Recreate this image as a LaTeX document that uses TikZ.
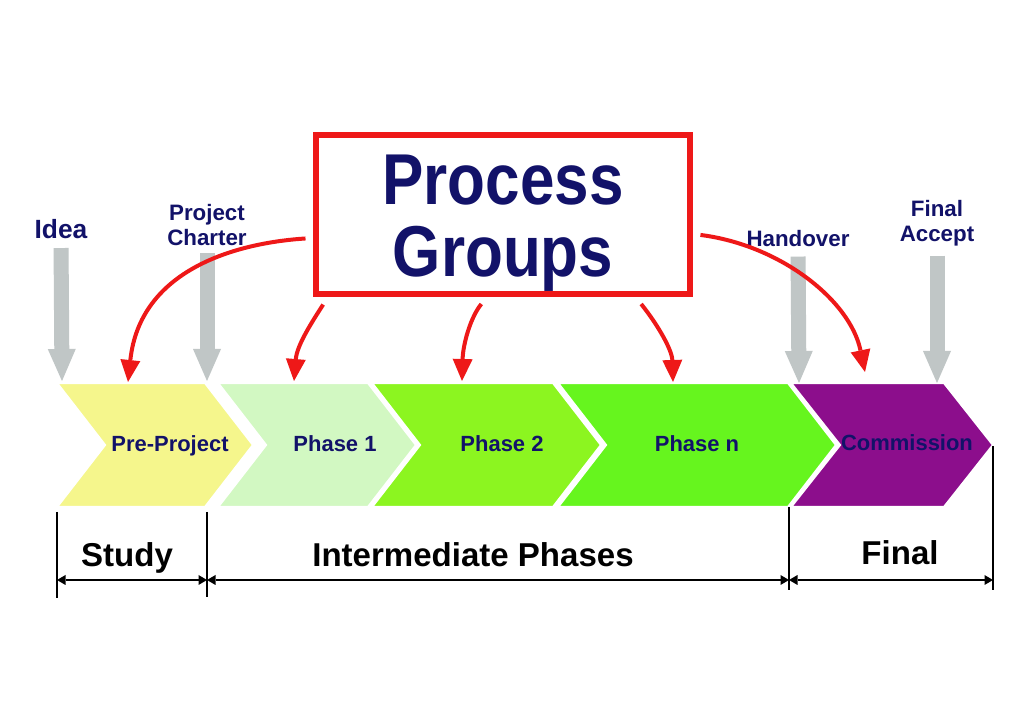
\documentclass[tikz,border=0pt]{standalone}
\usepackage{fontspec}
\setmainfont{Liberation Sans}
\newfontfamily\titlefont[FakeStretch=0.86]{Liberation Sans}
\usetikzlibrary{arrows.meta}
\definecolor{navy}{RGB}{18,18,105}
\definecolor{merah}{RGB}{238,24,24}
\definecolor{abu}{RGB}{192,198,198}
\definecolor{cpre}{RGB}{245,246,140}
\definecolor{cph1}{RGB}{210,248,194}
\definecolor{cph2}{RGB}{140,245,32}
\definecolor{cphn}{RGB}{102,245,30}
\definecolor{ccomm}{RGB}{140,14,140}

\begin{document}
\begin{tikzpicture}[x=0.2mm, y=-0.2mm,
      chev/.style={draw=white, line width=1.2pt},
      fase/.style={anchor=base, inner sep=0pt, text=navy, font=\fontsize{12.5pt}{14pt}\selectfont\bfseries},
      lbl/.style={inner sep=0pt, align=center, text=navy, font=\fontsize{12.7pt}{14.2pt}\selectfont\bfseries},
      besar/.style={anchor=base, inner sep=0pt, font=\fontsize{18.8pt}{20pt}\selectfont\bfseries},
      pgbox/.style={draw=merah, line width=1.2mm, minimum width=74.8mm, minimum height=31.8mm, inner sep=0pt},
      pgtext/.style={inner sep=0pt, align=center, text=navy, font=\titlefont\fontsize{41pt}{41pt}\selectfont\bfseries},
      milestone/.style={draw=abu, line width=3mm, -{Triangle[width=5.6mm, length=6.4mm, line width=0pt]}},
      panah/.style={draw=merah, line width=0.8mm, -{Triangle[width=4mm, length=4.4mm, line width=0pt]}},
      edgeline/.style={line width=0.4mm},
      dimline/.style={line width=0.25mm, {Triangle[width=2mm, length=1.7mm, line width=0pt]}-{Triangle[width=2mm, length=1.7mm, line width=0pt]}}]

      \fill[white] (0,0) rectangle (1024,723);
      \useasboundingbox (0,0) rectangle (1024,723);

      % chevrons
      \filldraw[chev, fill=cpre] (57,383) -- (205,383) -- (253,445) -- (205,507) -- (57,507) -- (105,445) -- cycle;
      \filldraw[chev, fill=cph1] (218,383) -- (368,383) -- (416,445) -- (368,507) -- (218,507) -- (266,445) -- cycle;
      \filldraw[chev, fill=cph2] (372,383) -- (553,383) -- (601,445) -- (553,507) -- (372,507) -- (420,445) -- cycle;
      \filldraw[chev, fill=cphn] (558,383) -- (788,383) -- (836,445) -- (788,507) -- (558,507) -- (606,445) -- cycle;
      \filldraw[chev, fill=ccomm] (791,383) -- (944,383) -- (993,445) -- (944,507) -- (791,507) -- (840,445) -- cycle;

      \node[fase] (pre) at (170,452) {Pre-Project};
      \node[fase] (ph1) at (335,452) {Phase 1};
      \node[fase] (ph2) at (502,452) {Phase 2};
      \node[fase] (phn) at (697,452) {Phase n};
      \node[fase] (comm) at (907,451) {Commission};

      % milestones
      \node[lbl, font=\fontsize{15pt}{16pt}\selectfont\bfseries] (idea) at (61,229) {Idea};
      \node[lbl] (charter) at (207,225) {Project\\Charter};
      \node[lbl] (handover) at (798,239) {Handover};
      \node[lbl] (accept) at (937,223) {Final\\Accept};

      \coordinate (t_idea) at (62,381);
      \coordinate (t_charter) at (207,381);
      \coordinate (t_handover) at (799,383);
      \coordinate (t_accept) at (937,383);

      \draw[milestone, shorten <=1.8mm] (idea.south) -- (t_idea);
      \draw[milestone, shorten <=1.4mm] (charter.south) -- (t_charter);
      \draw[milestone, shorten <=1.8mm] (handover.south) -- (t_handover);
      \draw[milestone, shorten <=1.9mm] (accept.south) -- (t_accept);

      % process groups
      \node[pgbox] (pg) at (503,214.5) {};
      \node[pgtext] (pgt) at (503,223.5) {Process\\Groups};

      \coordinate (t_pre) at (128,382);
      \coordinate (t_ph1) at (294,381);
      \coordinate (t_ph2) at (462,381);
      \coordinate (t_phn) at (673,382);
      \coordinate (t_comm) at (865,372);

      \draw[panah, shorten <=1.5mm] ([yshift=-4.7mm]pg.west) .. controls (235,243) and (140,270) .. (t_pre);
      \draw[panah, shorten <=1.8mm] ([xshift=3mm]pg.south west) .. controls (312,322) and (297,345) .. (t_ph1);
      \draw[panah, shorten <=1.8mm] ([xshift=-3.2mm]pg.south) .. controls (470,318) and (463,345) .. (t_ph2);
      \draw[panah, shorten <=1.8mm] ([xshift=26.5mm]pg.south) .. controls (658,325) and (672,350) .. (t_phn);
      \draw[panah, shorten <=1.5mm] ([yshift=-3.9mm]pg.east) .. controls (780,245) and (850,300) .. (t_comm);

      % phase spans
      \draw[edgeline] (57,512) -- (57,598);
      \draw[edgeline] (207,512) -- (207,597);
      \draw[edgeline] (789,507) -- (789,590);
      \draw[edgeline] (993,446) -- (993,590);

      \coordinate (b1) at (57,580);
      \coordinate (b2) at (207,580);
      \coordinate (b3) at (789,580);
      \coordinate (b4) at (993,580);
      \draw[dimline] (b1) -- (b2);
      \draw[dimline] (b2) -- (b3);
      \draw[dimline] (b3) -- (b4);

      \node[besar] (study) at (127,567) {Study};
      \node[besar] (inter) at (473,567) {Intermediate Phases};
      \node[besar] (final) at (900,565) {Final};
    \end{tikzpicture}
\end{document}
